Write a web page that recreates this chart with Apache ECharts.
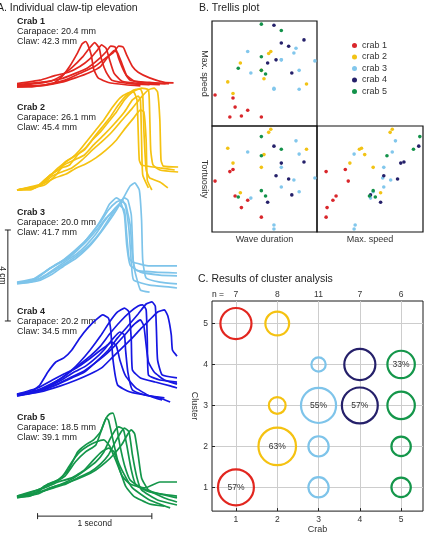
<!DOCTYPE html>
<html>
<head>
<meta charset="utf-8">
<script src="https://cdn.jsdelivr.net/npm/echarts@6/dist/echarts.min.js"></script>
<style>
html,body{margin:0;padding:0;background:#fff}
#main{width:426px;height:535px}
</style>
</head>
<body>
<div id="main"></div>
<script>
var FONT = '"Liberation Sans", Arial, sans-serif';

//A. claw-tip traces: [time (s), elevation (cm)]
var crab1Traces = [
	[[0,0],[0.11,0],[0.25,0.1],[0.33,0.2],[0.4,0.5],[0.46,0.9],[0.53,1.5],[0.57,1.9],[0.6,2.0],[0.62,1.85],[0.65,1.4],[0.67,0.8],[0.71,0.4],[0.8,0.2],[0.95,0.1],[1.08,0.05]],
	[[0,0.05],[0.16,0.15],[0.29,0.25],[0.39,0.5],[0.48,0.85],[0.57,1.3],[0.64,1.75],[0.68,1.95],[0.72,1.7],[0.74,1.2],[0.78,0.65],[0.83,0.3],[0.99,0.15],[1.16,0.1]],
	[[0,0.15],[0.2,0.3],[0.33,0.5],[0.45,0.65],[0.55,0.9],[0.64,1.25],[0.7,1.6],[0.74,1.85],[0.78,1.7],[0.81,1.2],[0.85,0.6],[0.92,0.25],[1.08,0.15],[1.25,0.1]],
	[[0,0.1],[0.2,0.2],[0.38,0.35],[0.51,0.6],[0.62,0.85],[0.71,1.2],[0.78,1.55],[0.82,1.8],[0.86,1.75],[0.89,1.25],[0.94,0.65],[0.99,0.3],[1.16,0.2],[1.3,0.15]],
	[[0,0],[0.25,0.1],[0.42,0.3],[0.55,0.6],[0.68,0.9],[0.77,1.25],[0.84,1.5],[0.89,1.8],[0.93,1.75],[0.96,1.4],[1.01,0.9],[1.06,0.65],[1.16,0.4],[1.29,0.2],[1.37,0.18]],
	[[0,0.05],[0.2,0.05],[0.38,0.2],[0.51,0.4],[0.64,0.65],[0.73,0.9],[0.8,1.35],[0.85,1.6],[0.88,1.5],[0.92,1.0],[0.96,0.5],[1.03,0.25],[1.2,0.15],[1.33,0.15]]
];
var crab2Traces = [
	[[0,0],[0.11,0],[0.2,0.22],[0.29,0.66],[0.36,0.88],[0.42,1.23],[0.48,1.41],[0.55,1.76],[0.62,2.2],[0.69,2.64],[0.76,3.08],[0.83,3.6],[0.9,4.04],[0.97,4.26],[1.02,4.31],[1.05,3.96],[1.06,2.64],[1.07,1.32],[1.09,1.1],[1.25,0.97],[1.38,0.88]],
	[[0,0],[0.16,0.09],[0.24,0.44],[0.33,0.79],[0.39,0.97],[0.46,1.1],[0.53,1.54],[0.6,1.85],[0.67,2.29],[0.74,2.73],[0.81,3.16],[0.88,3.69],[0.95,4.13],[1.02,4.4],[1.08,4.44],[1.1,4.18],[1.11,2.64],[1.13,0.88],[1.16,0.53],[1.25,0.35],[1.32,0.09]],
	[[0,0],[0.18,0.18],[0.27,0.53],[0.36,0.97],[0.45,1.32],[0.52,1.54],[0.59,1.76],[0.66,2.2],[0.73,2.55],[0.8,2.99],[0.87,3.43],[0.94,3.96],[1.01,4.31],[1.09,4.48],[1.15,4.4],[1.16,3.52],[1.17,1.76],[1.19,1.1],[1.25,0.88],[1.41,0.79]],
	[[0,0],[0.2,0.18],[0.31,0.62],[0.39,0.79],[0.48,0.97],[0.57,1.32],[0.66,1.76],[0.74,2.11],[0.83,2.55],[0.92,3.08],[1.01,3.6],[1.08,4.04],[1.15,4.4],[1.2,4.48],[1.23,4.31],[1.25,3.08],[1.26,1.32],[1.28,1.05],[1.41,1.01]],
	[[0,0],[0.22,0.26],[0.33,0.53],[0.43,0.7],[0.52,0.97],[0.6,1.14],[0.69,1.41],[0.78,1.76],[0.87,2.2],[0.95,2.73],[1.02,3.16],[1.08,3.52],[1.11,3.43],[1.13,2.2],[1.14,0.44],[1.18,0]],
	[[0,0],[0.24,0.22],[0.34,0.66],[0.41,1.1],[0.5,1.32],[0.59,1.54],[0.67,1.98],[0.76,2.42],[0.85,2.9],[0.94,3.43],[1.01,3.96],[1.06,4.13],[1.08,3.96],[1.09,2.2],[1.1,0.66],[1.15,0.09]]
];
var crab3Traces = [
	[[0,0],[0.11,0.04],[0.2,0.31],[0.29,0.66],[0.38,0.92],[0.46,1.23],[0.55,1.63],[0.62,1.98],[0.69,2.42],[0.76,2.99],[0.81,3.47],[0.87,3.74],[0.9,3.65],[0.94,2.99],[0.96,1.67],[0.99,0.79],[1.08,0.48],[1.25,0.35],[1.4,0.31]],
	[[0,0],[0.13,0.13],[0.24,0.48],[0.32,0.75],[0.41,1.01],[0.5,1.36],[0.59,1.8],[0.66,2.24],[0.73,2.68],[0.8,3.21],[0.87,3.56],[0.92,3.65],[0.95,3.38],[0.98,2.33],[1.0,0.92],[1.02,0.13],[1.16,-0.09],[1.34,-0.18],[1.4,-0.22]],
	[[0,0.04],[0.17,0.22],[0.27,0.57],[0.36,0.84],[0.45,1.1],[0.53,1.45],[0.62,1.89],[0.71,2.42],[0.78,2.86],[0.85,3.21],[0.92,3.56],[0.95,3.47],[0.99,2.55],[1.01,1.23],[1.04,0.57],[1.21,0.48],[1.4,0.44]],
	[[0,-0.04],[0.18,0.09],[0.31,0.4],[0.41,0.75],[0.52,1.1],[0.62,1.54],[0.71,2.07],[0.8,2.68],[0.87,3.21],[0.94,3.82],[0.99,4.26],[1.03,4.4],[1.07,4.09],[1.09,2.77],[1.1,1.01],[1.13,0.22],[1.25,0.04],[1.4,-0.04]],
	[[0,0],[0.2,0.18],[0.32,0.53],[0.43,0.88],[0.53,1.23],[0.64,1.71],[0.73,2.24],[0.81,2.86],[0.88,3.38],[0.94,3.74],[0.97,3.65],[1.0,2.99],[1.01,1.89],[1.02,0.79],[1.08,-0.31],[1.16,-0.4]],
	[[0,0],[0.15,0.09],[0.25,0.35],[0.34,0.66],[0.43,0.97],[0.52,1.27],[0.6,1.63],[0.69,2.15],[0.76,2.68],[0.83,3.12],[0.89,3.43],[0.94,3.21],[0.96,2.11],[0.98,1.1],[1.01,0.92],[1.16,0.75],[1.4,0.75]]
];
var crab4Traces = [
	[[0,0],[0.11,0.09],[0.2,0.44],[0.27,1.01],[0.34,1.45],[0.41,1.63],[0.48,1.98],[0.55,2.51],[0.62,2.95],[0.69,3.3],[0.75,3.52],[0.8,3.38],[0.82,2.86],[0.84,1.54],[0.88,0.44],[0.99,0.13],[1.16,-0.04],[1.29,-0.13]],
	[[0,-0.04],[0.16,0.13],[0.29,0.44],[0.39,0.75],[0.48,1.1],[0.55,1.45],[0.64,1.98],[0.73,2.59],[0.81,3.21],[0.88,3.65],[0.94,3.82],[0.98,3.65],[1.0,2.42],[1.01,1.1],[1.08,0.75],[1.21,0.57],[1.34,0.4],[1.4,0.31]],
	[[0,0],[0.18,0.22],[0.33,0.57],[0.43,0.88],[0.53,1.27],[0.64,1.71],[0.73,2.15],[0.81,2.68],[0.9,3.21],[0.99,3.65],[1.06,3.91],[1.1,3.96],[1.13,3.74],[1.14,2.42],[1.15,0.88],[1.25,0.66],[1.4,0.57]],
	[[0,0.04],[0.2,0.22],[0.36,0.48],[0.48,0.75],[0.59,1.01],[0.69,1.45],[0.8,1.98],[0.88,2.51],[0.97,3.03],[1.06,3.56],[1.13,4.0],[1.18,4.09],[1.21,3.91],[1.22,2.86],[1.23,1.54],[1.27,0.88],[1.4,0.75]],
	[[0,-0.04],[0.2,0.13],[0.38,0.4],[0.52,0.66],[0.64,0.92],[0.74,1.19],[0.83,1.63],[0.92,2.07],[1.01,2.51],[1.09,2.95],[1.16,3.3],[1.23,3.65],[1.29,3.74],[1.32,3.47],[1.35,2.64],[1.36,1.98],[1.4,1.71]],
	[[0,0],[0.17,0.18],[0.29,0.4],[0.39,0.66],[0.5,1.01],[0.6,1.27],[0.69,1.63],[0.76,1.98],[0.83,2.42],[0.9,2.77],[0.94,2.64],[0.95,1.98],[0.97,1.01],[1.01,0.22],[1.12,0],[1.25,-0.13],[1.34,-0.31]],
	[[0,0],[0.2,0.18],[0.34,0.44],[0.46,0.75],[0.57,1.01],[0.67,1.36],[0.78,1.8],[0.87,2.24],[0.95,2.68],[1.02,3.08],[1.08,3.3],[1.11,3.03],[1.13,2.2],[1.15,1.45],[1.2,1.01],[1.29,0.66],[1.4,0.48]],
	[[0,0.04],[0.18,0.31],[0.31,0.66],[0.41,0.92],[0.52,1.19],[0.62,1.54],[0.71,1.89],[0.78,2.15],[0.83,2.33],[0.87,2.15],[0.9,1.54],[0.95,0.84],[1.04,0.31],[1.16,-0.04],[1.27,-0.22]]
];
var crab5Traces = [
	[[0,0],[0.11,0.04],[0.2,0.31],[0.27,0.57],[0.36,0.75],[0.45,1.19],[0.53,1.98],[0.6,2.29],[0.67,2.51],[0.73,2.86],[0.78,3.47],[0.81,3.65],[0.84,3.69],[0.87,3.16],[0.9,2.29],[0.94,1.41],[0.99,0.75],[1.09,0.4],[1.25,0.13],[1.4,-0.04]],
	[[0,0],[0.16,0.13],[0.24,0.48],[0.33,0.66],[0.42,0.92],[0.51,1.54],[0.6,1.98],[0.69,2.29],[0.74,2.95],[0.78,3.47],[0.8,3.38],[0.84,2.51],[0.88,1.63],[0.94,0.97],[1.01,0.4],[1.16,-0.13],[1.34,-0.48]],
	[[0,-0.04],[0.18,0.13],[0.29,0.4],[0.39,0.57],[0.5,0.84],[0.6,1.19],[0.69,1.54],[0.76,1.98],[0.81,2.51],[0.86,2.95],[0.89,3.08],[0.93,2.99],[0.96,2.29],[1.0,1.19],[1.04,0.53],[1.16,0.22],[1.4,0.04]],
	[[0,0],[0.2,0.22],[0.32,0.4],[0.43,0.57],[0.53,0.84],[0.64,1.1],[0.73,1.45],[0.8,1.85],[0.86,2.42],[0.91,2.86],[0.94,3.03],[0.98,2.86],[1.01,1.85],[1.05,0.84],[1.09,0.31],[1.23,-0.13],[1.4,-0.35]],
	[[0,0.04],[0.22,0.26],[0.34,0.48],[0.46,0.66],[0.59,0.92],[0.69,1.19],[0.78,1.54],[0.85,1.89],[0.92,2.33],[0.97,2.77],[1.0,2.95],[1.03,2.77],[1.06,1.85],[1.09,0.84],[1.15,0.31],[1.29,-0.04],[1.4,-0.22]],
	[[0,0],[0.18,0.31],[0.29,0.57],[0.39,0.84],[0.48,1.54],[0.55,1.98],[0.62,2.24],[0.69,2.42],[0.76,2.51],[0.81,2.24],[0.87,1.54],[0.92,0.92],[0.99,0.57],[1.12,0.4],[1.25,0.66],[1.4,0.66]],
	[[0,0.04],[0.24,0.4],[0.36,0.66],[0.48,0.84],[0.59,1.19],[0.67,1.63],[0.74,1.98],[0.8,2.15],[0.85,1.98],[0.9,1.19],[0.95,0.48],[1.02,0.04],[1.16,-0.31],[1.29,-0.4]]
];
var carapaceMm = [20.4, 26.1, 20.0, 20.2, 18.5];
var clawMm = [42.3, 45.4, 41.7, 34.5, 39.1];

//B. trellis values (relative scale 0-100)
var crab1Duration = [2.9, 20, 17, 22, 34, 28, 47];
var crab1Speed = [29.5, 26.7, 8.6, 18, 15, 9.5, 8.6];
var crab1Tortuosity = [48, 59, 57, 34, 30, 23, 14];
var crab2Duration = [56, 54, 15, 90, 49.5, 20, 47, 27];
var crab2Speed = [71, 69, 42, 40, 45, 31, 53, 60];
var crab2Tortuosity = [97, 94, 79, 78, 73, 65, 61, 37];
var crab3Duration = [80, 34, 83, 66, 98, 78, 66, 83, 37, 59, 59];
var crab3Speed = [74, 71, 35, 63, 62, 69.5, 63, 53, 50.5, 36, 35];
var crab3Tortuosity = [86, 75.5, 73.5, 61, 51, 49, 42.5, 38, 32, 6.6, 2.8];
var crab4Duration = [59, 66, 87.6, 61, 73, 76, 53];
var crab4Speed = [96, 79, 82, 63, 76, 50.5, 60];
var crab4Tortuosity = [81, 65, 66, 53, 50, 35, 28];
var crab5Duration = [47, 66, 47, 25, 51, 47];
var crab5Speed = [97, 91, 66, 55, 49.5, 53];
var crab5Tortuosity = [90, 78, 72, 33, 34, 39];

//C. number of waves of each crab in clusters 1..5
var clusterCounts = [
	[4, 0, 0, 0, 3],
	[0, 5, 1, 0, 2],
	[2, 2, 6, 1, 0],
	[0, 0, 4, 3, 0],
	[1, 1, 2, 2, 0]
];
var labelledCluster = [1, 2, 3, 3, 4];
var crabTicks = [1, 2, 3, 4, 5];
var clusterTicks = [1, 2, 3, 4, 5];
var crabNames = ['crab 1', 'crab 2', 'crab 3', 'crab 4', 'crab 5'];

var traceColors = ['#e2261f', '#f5c211', '#7ec4ea', '#1616e2', '#14964a'];
var dotColors = ['#d9262b', '#f2c315', '#82c7ec', '#25206a', '#13924a'];

//panel A layout: baseline pixel and y extent per crab
var PX_CM = 22.75;
var aLayout = [
	{base: 87, min: -0.2, max: 2.2, text: 17},
	{base: 190, min: -0.2, max: 4.6, text: 103},
	{base: 283, min: -0.5, max: 4.6, text: 208},
	{base: 395, min: -0.4, max: 4.2, text: 307},
	{base: 497, min: -0.6, max: 3.8, text: 413}
];

function hiddenAxis(idx, min, max) {
	return {
		gridIndex: idx, type: 'value', min: min, max: max, show: false
	};
}

function bareAxis(idx, name, gap, rotate) {
	return {
		gridIndex: idx, type: 'value', min: 0, max: 100,
		name: name || '', nameLocation: 'middle', nameGap: gap || 0, nameRotate: rotate,
		nameTextStyle: {fontSize: 9, color: '#333', fontFamily: FONT},
		axisLine: {show: false}, axisTick: {show: false},
		axisLabel: {show: false}, splitLine: {show: false}
	};
}

function zipPoints(a, b) {
	var out = [];
	for (var i = 0; i < a.length; i++) {
		out.push([a[i], b[i]]);
	}
	return out;
}

var grids = [], xAxes = [], yAxes = [], series = [], graphics = [];
var allTraces = [crab1Traces, crab2Traces, crab3Traces, crab4Traces, crab5Traces];

//panel A
for (var c = 0; c < 5; c++) {
	var lay = aLayout[c];
	grids.push({
		left: 17, width: 160,
		top: lay.base - lay.max * PX_CM,
		height: (lay.max - lay.min) * PX_CM,
		show: false
	});
	xAxes.push(hiddenAxis(c, 0, 1.4));
	yAxes.push(hiddenAxis(c, lay.min, lay.max));
	var traces = allTraces[c];
	for (var t = 0; t < traces.length; t++) {
		series.push({
			name: 'Crab ' + (c + 1) + ' trace',
			type: 'line', xAxisIndex: c, yAxisIndex: c,
			data: traces[t], showSymbol: false, smooth: 0.15,
			lineStyle: {color: traceColors[c], width: 1.7},
			silent: true, z: 2
		});
	}
	graphics.push({
		type: 'text', id: 'crabText' + c, left: 17, top: lay.text,
		style: {
			text: '{b|Crab ' + (c + 1) + '}\nCarapace: ' + carapaceMm[c].toFixed(1) + ' mm\nClaw: ' + clawMm[c].toFixed(1) + ' mm',
			fontSize: 9, fontFamily: FONT, lineHeight: 10, fill: '#222',
			rich: {b: {fontSize: 9, fontWeight: 'bold', fontFamily: FONT, fill: '#222', lineHeight: 10}}
		}
	});
}

//panel B trellis
var bGrid = {show: true, borderColor: '#111', borderWidth: 1.2, backgroundColor: 'transparent'};
grids.push(Object.assign({left: 212, top: 21, width: 105, height: 105}, bGrid));
grids.push(Object.assign({left: 212, top: 126, width: 105, height: 106}, bGrid));
grids.push(Object.assign({left: 317, top: 126, width: 106, height: 106}, bGrid));
xAxes.push(bareAxis(5));
xAxes.push(bareAxis(6, 'Wave duration', 3));
xAxes.push(bareAxis(7, 'Max. speed', 3));
yAxes.push(bareAxis(5, 'Max. speed', 3, -90));
yAxes.push(bareAxis(6, 'Tortuosity', 3, -90));
yAxes.push(bareAxis(7));

var durations = [crab1Duration, crab2Duration, crab3Duration, crab4Duration, crab5Duration];
var speeds = [crab1Speed, crab2Speed, crab3Speed, crab4Speed, crab5Speed];
var tortuosities = [crab1Tortuosity, crab2Tortuosity, crab3Tortuosity, crab4Tortuosity, crab5Tortuosity];
var pairs = [[durations, speeds], [durations, tortuosities], [speeds, tortuosities]];
for (var p = 0; p < 3; p++) {
	for (var c = 0; c < 5; c++) {
		series.push({
			name: crabNames[c], type: 'scatter',
			xAxisIndex: 5 + p, yAxisIndex: 5 + p,
			data: zipPoints(pairs[p][0][c], pairs[p][1][c]),
			symbolSize: 3.6, itemStyle: {color: dotColors[c], opacity: 1},
			silent: true, z: 3
		});
	}
}

//panel C cluster bubbles
grids.push({left: 212, top: 301, width: 211, height: 213, show: true, borderColor: '#1a1a1a', borderWidth: 1, backgroundColor: 'transparent'});
var cAxisCommon = {
	gridIndex: 8, type: 'value',
	axisLine: {show: false},
	axisTick: {show: true, inside: true, length: 3, customValues: crabTicks, lineStyle: {color: '#222'}},
	axisLabel: {fontSize: 8.5, color: '#333', fontFamily: FONT, margin: 4, customValues: crabTicks},
	splitLine: {show: true, lineStyle: {color: '#cdcdcd', width: 1}},
	nameTextStyle: {fontSize: 9, color: '#333', fontFamily: FONT}
};
xAxes.push(Object.assign({}, cAxisCommon, {min: 0.42, max: 5.53, name: 'Crab', nameLocation: 'middle', nameGap: 10}));
var nCounts = clusterCounts.map(function(row) {
	return row.reduce(function(s, v) { return s + v; }, 0);
});
xAxes.push({
	gridIndex: 8, type: 'value', position: 'top', min: 0.42, max: 5.53,
	axisLine: {show: false}, axisTick: {show: false}, splitLine: {show: false},
	axisLabel: {
		fontSize: 8.5, color: '#333', fontFamily: FONT, margin: 2, customValues: crabTicks,
		formatter: function(v) { return String(nCounts[Math.round(v) - 1]); }
	}
});
yAxes.push(Object.assign({}, cAxisCommon, {
	min: 0.42, max: 5.55, name: 'Cluster', nameLocation: 'middle', nameGap: 12, nameRotate: -90,
	axisTick: {show: true, inside: true, length: 3, customValues: clusterTicks, lineStyle: {color: '#222'}},
	axisLabel: {fontSize: 8.5, color: '#333', fontFamily: FONT, margin: 4, customValues: clusterTicks}
}));

for (var c = 0; c < 5; c++) {
	var pts = [];
	for (var k = 0; k < 5; k++) {
		var cnt = clusterCounts[c][k];
		if (!cnt) {
			continue;
		}
		var frac = cnt / nCounts[c];
		var item = {value: [crabTicks[c], clusterTicks[k]], symbolSize: 47.5 * Math.sqrt(frac)};
		if (clusterTicks[k] == labelledCluster[c]) {
			item.label = {show: true, formatter: Math.round(frac * 100) + '%'};
		}
		pts.push(item);
	}
	series.push({
		name: crabNames[c] + ' clusters', type: 'scatter', xAxisIndex: 8, yAxisIndex: 8,
		data: pts, symbol: 'circle',
		itemStyle: {color: 'rgba(0,0,0,0)', borderColor: c == 3 ? dotColors[c] : traceColors[c], borderWidth: 2.2, opacity: 1},
		label: {show: false, position: 'inside', fontSize: 8.5, color: '#333', fontFamily: FONT},
		silent: true, z: 4
	});
}

//panel headings and extra text
function addText(id, x, y, text, size, rot) {
	graphics.push({
		type: 'text', id: id, x: x, y: y, rotation: rot || 0,
		style: {text: text, fontSize: size, fontFamily: FONT, fill: '#222', verticalAlign: 'middle', align: rot ? 'center' : 'left'}
	});
}
addText('titleA', -3, 8, 'A. Individual claw-tip elevation', 10.5);
addText('titleB', 199, 8, 'B. Trellis plot', 10.5);
addText('titleC', 198, 279, 'C. Results of cluster analysis', 10.5);
addText('nEq', 212, 295, 'n =', 8.5);

var chart = echarts.init(document.getElementById('main'), null, {renderer: 'canvas'});
chart.setOption({
	animation: false,
	backgroundColor: '#fff',
	textStyle: {fontFamily: FONT},
	grid: grids,
	xAxis: xAxes,
	yAxis: yAxes,
	legend: {
		data: crabNames, orient: 'vertical', left: 347, top: 36,
		icon: 'circle', itemWidth: 5, itemHeight: 5, itemGap: 2.5,
		textStyle: {fontSize: 9, color: '#333', fontFamily: FONT}, selectedMode: false
	},
	series: series,
	graphic: graphics
});

//scale bars, placed through the trace axes
var barSec = [0.18, 1.18], barSecY = -0.84;
var barCm = [-1.67, 2.33], barCmX = -0.08;
var h0 = chart.convertToPixel({gridIndex: 4}, [barSec[0], barSecY]);
var h1 = chart.convertToPixel({gridIndex: 4}, [barSec[1], barSecY]);
var v0 = chart.convertToPixel({gridIndex: 2}, [barCmX, barCm[0]]);
var v1 = chart.convertToPixel({gridIndex: 2}, [barCmX, barCm[1]]);
var barStyle = {stroke: '#222', lineWidth: 1};
var bars = [
	{type: 'line', id: 'hBar', shape: {x1: h0[0], y1: h0[1], x2: h1[0], y2: h1[1]}, style: barStyle},
	{type: 'line', id: 'hCap0', shape: {x1: h0[0], y1: h0[1] - 3, x2: h0[0], y2: h0[1] + 3}, style: barStyle},
	{type: 'line', id: 'hCap1', shape: {x1: h1[0], y1: h1[1] - 3, x2: h1[0], y2: h1[1] + 3}, style: barStyle},
	{type: 'line', id: 'vBar', shape: {x1: v0[0], y1: v0[1], x2: v1[0], y2: v1[1]}, style: barStyle},
	{type: 'line', id: 'vCap0', shape: {x1: v0[0] - 3, y1: v0[1], x2: v0[0] + 3, y2: v0[1]}, style: barStyle},
	{type: 'line', id: 'vCap1', shape: {x1: v1[0] - 3, y1: v1[1], x2: v1[0] + 3, y2: v1[1]}, style: barStyle},
	{type: 'text', id: 'secText', x: (h0[0] + h1[0]) / 2, y: h0[1] + 8,
		style: {text: '1 second', fontSize: 8.5, fontFamily: FONT, fill: '#222', align: 'center', verticalAlign: 'middle'}},
	{type: 'text', id: 'cmText', x: v0[0] - 6, y: (v0[1] + v1[1]) / 2, rotation: -Math.PI / 2,
		style: {text: '4 cm', fontSize: 8.5, fontFamily: FONT, fill: '#222', align: 'center', verticalAlign: 'middle'}}
];
chart.setOption({graphic: bars});
</script>
</body>
</html>
